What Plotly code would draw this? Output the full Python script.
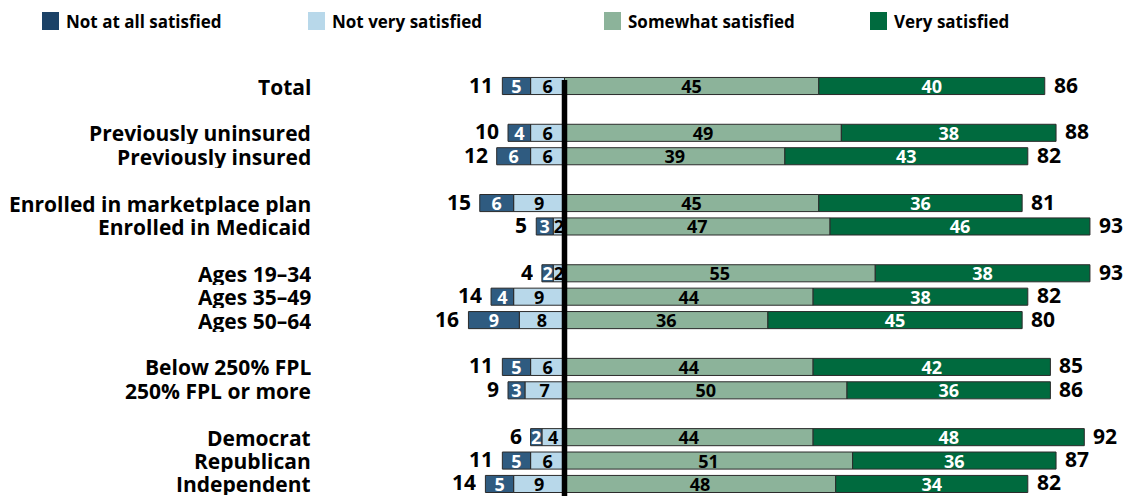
import plotly.graph_objects as go

# Survey groups and their row slots (blank slots separate the groups)
categories = [
    "Total",
    "Previously uninsured", "Previously insured",
    "Enrolled in marketplace plan", "Enrolled in Medicaid",
    "Ages 19\u201334", "Ages 35\u201349", "Ages 50\u201364",
    "Below 250% FPL", "250% FPL or more",
    "Democrat", "Republican", "Independent",
]
row_slots = [0, 2, 3, 5, 6, 8, 9, 10, 12, 13, 15, 16, 17]

not_at_all = [5, 4, 6, 6, 3, 2, 4, 9, 5, 3, 2, 5, 5]
not_very = [6, 6, 6, 9, 2, 2, 9, 8, 6, 7, 4, 6, 9]
somewhat = [45, 49, 39, 45, 47, 55, 44, 36, 44, 50, 44, 51, 48]
very = [40, 38, 43, 36, 46, 38, 38, 45, 42, 36, 48, 36, 34]

dissatisfied_total = [11, 10, 12, 15, 5, 4, 14, 16, 11, 9, 6, 11, 14]
satisfied_total = [86, 88, 82, 81, 93, 93, 82, 80, 85, 86, 92, 87, 82]

series_names = ["Not at all satisfied", "Not very satisfied", "Somewhat satisfied", "Very satisfied"]
bar_colors = ["#2f5b80", "#b8d8ea", "#8cb39a", "#006a3e"]
legend_colors = ["#1b4267", "#b8d8ea", "#8cb39a", "#006a3e"]
text_colors = ["#ffffff", "#000000", "#000000", "#ffffff"]

FONT = "Open Sans"
W, H = 1133, 496
ZERO_PX, PX_PER_UNIT = 564.5, 5.65
ROW_TOP_PX, ROW_STEP_PX = 86, 23.41
LABEL_BOX_H = 23

fig = go.Figure()


def add_series(values, sign, idx):
    fig.add_trace(go.Bar(
        y=row_slots,
        x=[sign * v for v in values],
        orientation="h",
        name=series_names[idx],
        marker=dict(color=bar_colors[idx], line=dict(color="#2b2b2b", width=1)),
        text=[str(v) for v in values],
        textposition="inside",
        insidetextanchor="middle",
        constraintext="none",
        textangle=0,
        textfont=dict(family=FONT, size=18, color=text_colors[idx], weight="bold"),
        width=0.73,
        showlegend=False,
        hoverinfo="skip",
    ))


# negative side: inner segment first so it sits next to the axis
add_series(not_very, -1, 1)
add_series(not_at_all, -1, 0)
add_series(somewhat, 1, 2)
add_series(very, 1, 3)

label_font = dict(family=FONT, size=21, color="#000000", weight="bold")

annotations = []
for cat, slot in zip(categories, row_slots):
    annotations.append(dict(
        x=313 / W, xref="paper", y=slot, yref="y", text=cat,
        xanchor="right", yanchor="middle", showarrow=False,
        height=LABEL_BOX_H, valign="middle", font=label_font,
    ))

for slot, a, b, tot in zip(row_slots, not_at_all, not_very, dissatisfied_total):
    annotations.append(dict(
        x=-(a + b), y=slot, text=str(tot), xanchor="right", yanchor="middle",
        xshift=-7, yshift=2, showarrow=False,
        height=LABEL_BOX_H, valign="middle", font=label_font,
    ))

for slot, s, v, tot in zip(row_slots, somewhat, very, satisfied_total):
    annotations.append(dict(
        x=s + v, y=slot, text=str(tot), xanchor="left", yanchor="middle",
        xshift=7, yshift=2, showarrow=False,
        height=LABEL_BOX_H, valign="middle", font=label_font,
    ))

# legend row drawn across the top
legend_square_x = [42, 308, 604, 870]
shapes = []
for name, col, sx in zip(series_names, legend_colors, legend_square_x):
    shapes.append(dict(
        type="rect", xref="paper", yref="paper",
        x0=sx / W, x1=(sx + 17) / W, y0=1 - 30 / H, y1=1 - 12 / H,
        fillcolor=col, line=dict(width=0),
    ))
    annotations.append(dict(
        x=(sx + 22) / W, xref="paper", y=1 - 21 / H, yref="paper", text=name,
        xanchor="left", yanchor="middle", showarrow=False,
        font=dict(family=FONT, size=17, color="#000000", weight="bold"),
    ))

# thick zero line
shapes.append(dict(
    type="line", xref="x", yref="paper", x0=0, x1=0,
    y0=0, y1=1 - 80 / H, line=dict(color="#000000", width=5.5), layer="above",
))

x_min = -ZERO_PX / PX_PER_UNIT
x_max = (W - ZERO_PX) / PX_PER_UNIT
y_top = -ROW_TOP_PX / ROW_STEP_PX
y_bottom = row_slots[-1] + (H - (ROW_TOP_PX + ROW_STEP_PX * row_slots[-1])) / ROW_STEP_PX

fig.update_layout(
    width=W, height=H,
    margin=dict(l=0, r=0, t=0, b=0),
    barmode="relative",
    plot_bgcolor="#ffffff", paper_bgcolor="#ffffff",
    xaxis=dict(range=[x_min, x_max], visible=False, fixedrange=True),
    yaxis=dict(range=[y_bottom, y_top], visible=False, fixedrange=True),
    annotations=annotations,
    shapes=shapes,
    font=dict(family=FONT),
)

fig.write_html("out.html")
